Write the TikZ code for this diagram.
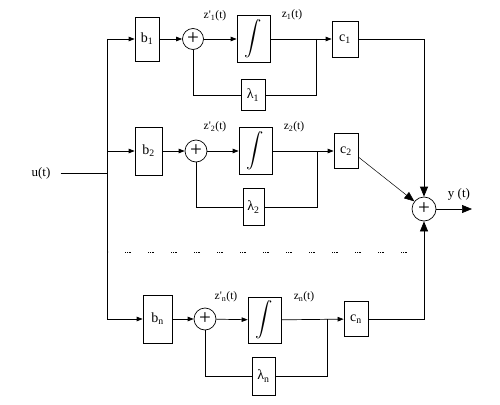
\documentclass[tikz,border=0pt]{standalone}
\usepackage{amsmath}
\usepackage{fontspec}
\setmainfont{Liberation Serif}
\usetikzlibrary{shapes,arrows.meta,positioning}

\begin{document}
\begin{tikzpicture}[x=1pt, y=-1pt, line width=0.7pt]
    \tikzset{
        box/.style      =   { rectangle
                            , draw=black
                            , inner sep=0pt
                            , font=\fontsize{14}{14}\selectfont
        }
        , sum/.style    =   { circle
                            , draw=black
                            , inner sep=0pt
                            , minimum size=22pt
                            , font=\fontsize{21}{21}\selectfont
        }
        , lbl/.style    =   { inner sep=0pt
                            , font=\fontsize{11.5}{11.5}\selectfont
        }
        , arrow/.style  =   { -{Triangle[length=6pt, width=4.5pt]}
        }
        , bigarrow/.style = { -{Triangle[length=10pt, width=8pt]}
        }
        , dots/.style   =   { line width=0.6pt
                            , dash pattern=on 0.8pt off 1pt
        }
    }
    \useasboundingbox (0,0) rectangle (500,404);

    % input and bus
    \node(u)[lbl, font=\fontsize{13}{13}\selectfont] at (41,173) {u(t)};
    \coordinate(top) at (107,39);
    \coordinate(bot) at (107,319);

    % first branch
    \node(b1)[box, minimum width=24pt, minimum height=44pt] at (147,39) {b\textsubscript{1}};
    \node(s1)[sum, minimum size=21pt] at (193,39) {+};
    \node(i1)[box, minimum width=33pt, minimum height=47pt, font=\fontsize{18}{18}\selectfont] at (253.5,39) {$\displaystyle\int$};
    \node(c1)[box, minimum width=26pt, minimum height=36pt] at (345,39) {c\textsubscript{1}};
    \node(l1)[box, minimum width=24pt, minimum height=31pt] at (253,95) {λ\textsubscript{1}};
    \coordinate(j1) at (316,39);
    \node(zp1)[lbl] at (215,16) {z\textquotesingle\textsubscript{1}(t)};
    \node(z1)[lbl] at (292,15) {z\textsubscript{1}(t)};

    % second branch
    \node(b2)[box, minimum width=27pt, minimum height=48pt] at (148.5,151) {b\textsubscript{2}};
    \node(s2)[sum] at (196,151) {+};
    \node(i2)[box, minimum width=33pt, minimum height=47pt, font=\fontsize{18}{18}\selectfont] at (255.5,151) {$\displaystyle\int$};
    \node(c2)[box, minimum width=24pt, minimum height=35pt] at (346,151) {c\textsubscript{2}};
    \node(l2)[box, minimum width=21pt, minimum height=37pt] at (253.5,207) {λ\textsubscript{2}};
    \coordinate(j2) at (317,151);
    \node(zp2)[lbl] at (215,127) {z\textquotesingle\textsubscript{2}(t)};
    \node(z2)[lbl] at (294,127) {z\textsubscript{2}(t)};

    % n-th branch
    \node(bn)[box, minimum width=29pt, minimum height=48pt] at (157.5,319) {b\textsubscript{n}};
    \node(sn)[sum] at (205,319) {+};
    \node(in)[box, minimum width=33pt, minimum height=46pt, font=\fontsize{18}{18}\selectfont] at (264.5,320) {$\displaystyle\int$};
    \node(cn)[box, minimum width=24pt, minimum height=35pt] at (356,319) {c\textsubscript{n}};
    \node(ln)[box, minimum width=23pt, minimum height=38pt] at (263.5,376) {λ\textsubscript{n}};
    \coordinate(jn) at (327,319);
    \node(zpn)[lbl] at (226,297) {z\textquotesingle\textsubscript{n}(t)};
    \node(zn)[lbl] at (304,297) {z\textsubscript{n}(t)};

    % output
    \node(sout)[sum, minimum size=24pt] at (424,209) {+};
    \coordinate(yout) at (472,209);
    \node(y)[lbl, font=\fontsize{13}{13}\selectfont] at (459,194) {y (t)};

    \draw ([xshift=10pt]u.east) -- (top |- u.east);
    \draw (top) -- (bot);

    \draw[arrow] (top) -- (b1);
    \draw[arrow] (b1) -- (s1);
    \draw[arrow] (s1) -- (i1);
    \draw[arrow] (i1) -- (c1);
    \draw (j1) |- (l1);
    \draw (l1) -| (s1);

    \draw[arrow] (top |- b2) -- (b2);
    \draw[arrow] (b2) -- (s2);
    \draw[arrow] (s2) -- (i2);
    \draw[arrow] (i2) -- (c2);
    \draw (j2) |- (l2);
    \draw (l2) -| (s2);

    \draw[arrow] (bot) -- (bn);
    \draw[arrow] (bn) -- (sn);
    \draw[arrow] (sn) -- (in);
    \draw[arrow] (in) -- (cn);
    \draw (jn) |- (ln);
    \draw (ln) -| (sn);

    \draw[bigarrow] (c1) -| (sout);
    \draw[bigarrow, line width=0.5pt] ([yshift=-6pt]c2.east) -- (sout);
    \draw[bigarrow] (cn) -| (sout);
    \draw[bigarrow] (sout) -- (yout);

    % the row of dots
    \fill (108,252) circle (0.4pt);
    \foreach \x in {128,151,...,404}
        \draw[dots] (\x-3,252) -- (\x+3,252);
\end{tikzpicture}
\end{document}
